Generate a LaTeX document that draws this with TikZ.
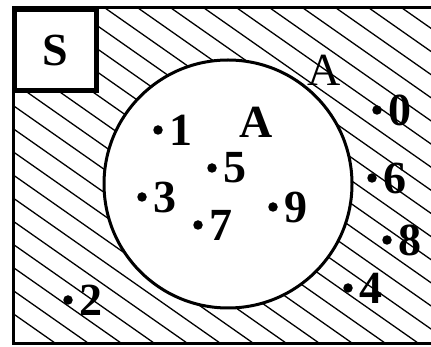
\documentclass[tikz,border=0pt]{standalone}
\usepackage{fontspec}
\setmainfont{Liberation Serif}
\usetikzlibrary{positioning}
\tikzset{
  hatch/.style={line width=1.3pt, draw=black},
  rim/.style={line width=3pt, draw=black},
  dotpt/.style={circle, fill=black, inner sep=0pt, minimum size=9.5pt},
  numlbl/.style={font=\fontsize{46}{46}\selectfont\bfseries, inner sep=0pt},
}

\begin{document}
\begin{tikzpicture}[x=1pt,y=-1pt]
  \useasboundingbox (0,0) rectangle (431,347);
  \clip (0,0) rectangle (431,347);
  % hatched universe S
  \begin{scope}
    \clip (13,8) rectangle (440,343);
    \foreach \i in {-16,...,11}
      \draw[hatch] (105+33*\i,8) -- ++(478,335);
  \end{scope}
  \draw[rim] (445,8) -- (13,8) -- (13,343) -- (445,343);
  % set A
  \draw[rim, fill=white] (228,184) circle (124pt);
  \node[numlbl, draw, line width=5pt, fill=white, minimum width=82pt, minimum height=81pt] (S) at (55.5,50) {S};
  \node[font=\fontsize{46}{46}\selectfont, inner sep=0pt] (Aout) at (324,70) {A};
  \node[numlbl] (Ain) at (256,122) {A};
  % elements
  \node[dotpt] (d0) at (377,110) {}; \node[numlbl, right=6pt of d0] (n0) {0};
  \node[dotpt] (d1) at (158,130) {}; \node[numlbl, right=6pt of d1] (n1) {1};
  \node[dotpt] (d2) at (68,300) {};  \node[numlbl, right=6pt of d2] (n2) {2};
  \node[dotpt] (d3) at (142,197) {}; \node[numlbl, right=6pt of d3] (n3) {3};
  \node[dotpt] (d4) at (348,288) {}; \node[numlbl, right=6pt of d4] (n4) {4};
  \node[dotpt] (d5) at (212,168) {}; \node[numlbl, right=6pt of d5] (n5) {5};
  \node[dotpt] (d6) at (372,178) {}; \node[numlbl, right=6pt of d6] (n6) {6};
  \node[dotpt] (d7) at (198,225) {}; \node[numlbl, right=6pt of d7] (n7) {7};
  \node[dotpt] (d8) at (387,240) {}; \node[numlbl, right=6pt of d8] (n8) {8};
  \node[dotpt] (d9) at (273,207) {}; \node[numlbl, right=6pt of d9] (n9) {9};
\end{tikzpicture}
\end{document}
